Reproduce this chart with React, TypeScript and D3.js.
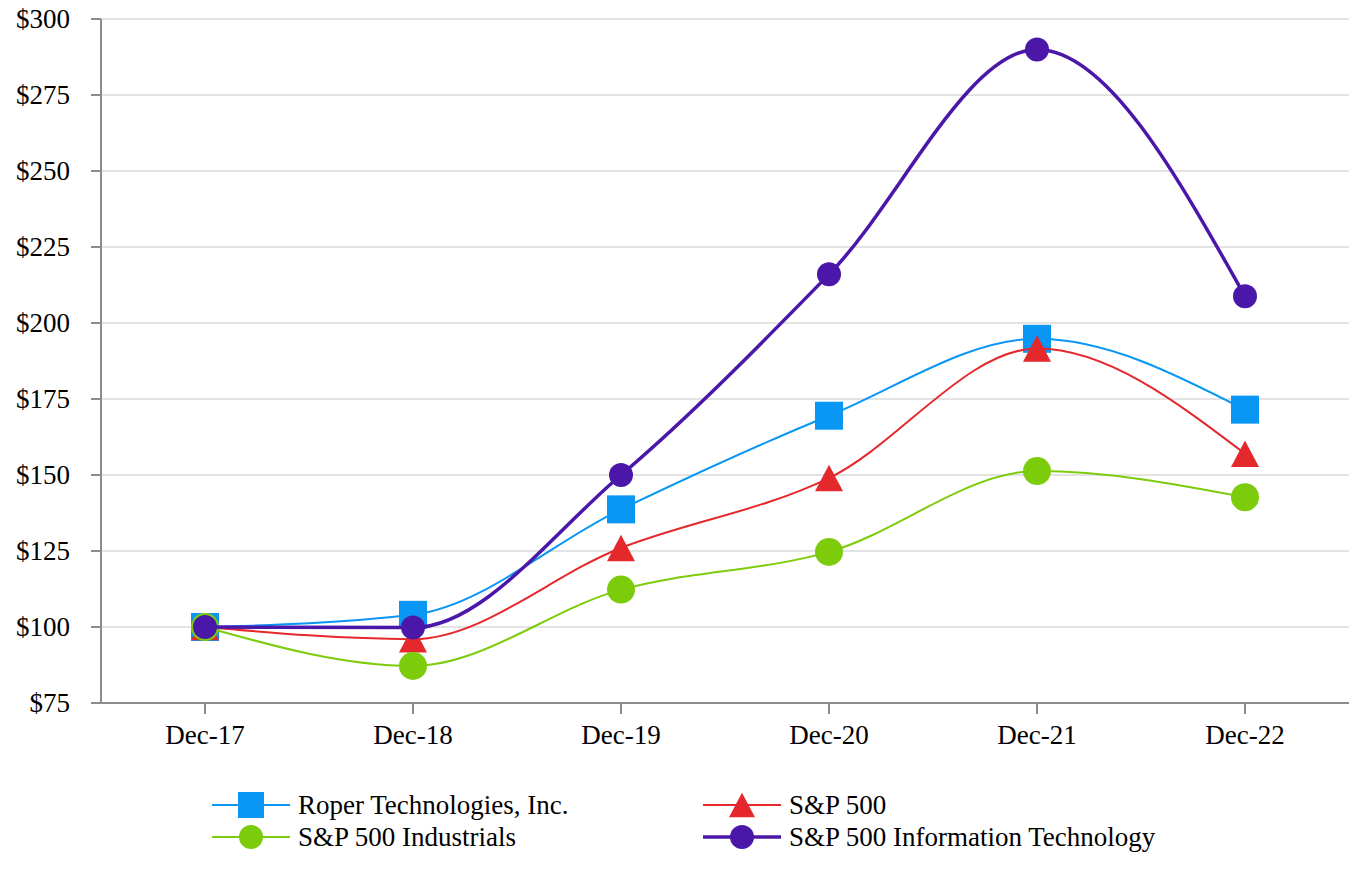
import React from "react";
import * as d3 from "d3";

const categories = ["Dec-17", "Dec-18", "Dec-19", "Dec-20", "Dec-21", "Dec-22"];
const roperValues = [100, 104, 138.7, 169.5, 194.8, 171.5];
const sp500Values = [100, 96, 126, 149, 191.6, 157];
const industrialsValues = [100, 87.2, 112.3, 124.7, 151.3, 142.7];
const infoTechValues = [100, 99.8, 150, 216, 290, 208.8];
const yTicks = [75, 100, 125, 150, 175, 200, 225, 250, 275, 300];

const seriesNames = [
  "Roper Technologies, Inc.",
  "S&P 500",
  "S&P 500 Industrials",
  "S&P 500 Information Technology",
];

type Series = { name: string; values: number[]; color: string; width: number; marker: string; size: number };

const series: Series[] = [
  { name: seriesNames[0], values: roperValues, color: "#0a96f5", width: 2, marker: "square", size: 28 },
  { name: seriesNames[1], values: sp500Values, color: "#e5282b", width: 2, marker: "triangle", size: 28 },
  { name: seriesNames[2], values: industrialsValues, color: "#7ccc0c", width: 2, marker: "circle", size: 28 },
  { name: seriesNames[3], values: infoTechValues, color: "#4a17a9", width: 3.5, marker: "circle", size: 24 },
];

const FONT = "'Liberation Serif', 'Times New Roman', serif";

function Marker({ type, cx, cy, size, color }: { type: string; cx: number; cy: number; size: number; color: string }) {
  if (type === "square") {
    return <rect x={cx - size / 2} y={cy - size / 2} width={size} height={size} fill={color} />;
  }
  if (type === "triangle") {
    const h = size * 0.95;
    const pts = `${cx},${cy - h / 2} ${cx + size / 2},${cy + h / 2} ${cx - size / 2},${cy + h / 2}`;
    return <polygon points={pts} fill={color} />;
  }
  return <circle cx={cx} cy={cy} r={size / 2} fill={color} />;
}

export default function App() {
  const left = 101;
  const right = 1349;
  const top = 19;
  const bottom = 703;

  const x = d3.scaleBand<string>().domain(categories).range([left, right]);
  const xc = (c: string) => (x(c) as number) + x.bandwidth() / 2;
  const y = d3.scaleLinear().domain([75, 300]).range([bottom, top]);

  const line = d3
    .line<number>()
    .x((_, i) => xc(categories[i]))
    .y((v) => y(v))
    .curve(d3.curveMonotoneX);

  const legendPos = [
    { lx: 212, ly: 805 },
    { lx: 703, ly: 805 },
    { lx: 212, ly: 837 },
    { lx: 703, ly: 837 },
  ];

  return (
    <svg
      width={1368}
      height={880}
      style={{ position: "absolute", left: 0, top: 0, background: "#fff" }}
      fontFamily={FONT}
    >
      <rect x={0} y={0} width={1368} height={880} fill="#ffffff" />
      {yTicks.map((t) => (
        <g key={t}>
          {t !== 75 && (
            <line x1={left} x2={right} y1={y(t)} y2={y(t)} stroke="#e3e3e3" strokeWidth={2} />
          )}
          <line x1={left - 10} x2={left} y1={y(t)} y2={y(t)} stroke="#8c8c8c" strokeWidth={2} />
          <text x={70} y={y(t)} dy="0.35em" textAnchor="end" fontSize={27} fill="#000">
            {"$" + t}
          </text>
        </g>
      ))}
      <line x1={left} x2={left} y1={top} y2={bottom} stroke="#8c8c8c" strokeWidth={2} />
      <line x1={left - 10} x2={right} y1={bottom} y2={bottom} stroke="#8c8c8c" strokeWidth={2} />
      {categories.map((c) => (
        <g key={c}>
          <line x1={xc(c)} x2={xc(c)} y1={bottom} y2={bottom + 11} stroke="#8c8c8c" strokeWidth={2} />
          <text x={xc(c)} y={744} textAnchor="middle" fontSize={27} fill="#000">
            {c}
          </text>
        </g>
      ))}
      {series.map((s) => (
        <g key={s.name}>
          <path d={line(s.values) || ""} fill="none" stroke={s.color} strokeWidth={s.width} />
          {s.values.map((v, i) => (
            <Marker key={i} type={s.marker} cx={xc(categories[i])} cy={y(v)} size={s.size} color={s.color} />
          ))}
        </g>
      ))}
      {series.map((s, i) => {
        const { lx, ly } = legendPos[i];
        return (
          <g key={"leg" + s.name}>
            <line x1={lx} x2={lx + 78} y1={ly} y2={ly} stroke={s.color} strokeWidth={s.width} />
            <Marker type={s.marker} cx={lx + 39} cy={ly} size={s.marker === "circle" ? 24 : 26} color={s.color} />
            <text x={lx + 86} y={ly} dy="0.34em" fontSize={27} fill="#000">
              {s.name}
            </text>
          </g>
        );
      })}
    </svg>
  );
}
